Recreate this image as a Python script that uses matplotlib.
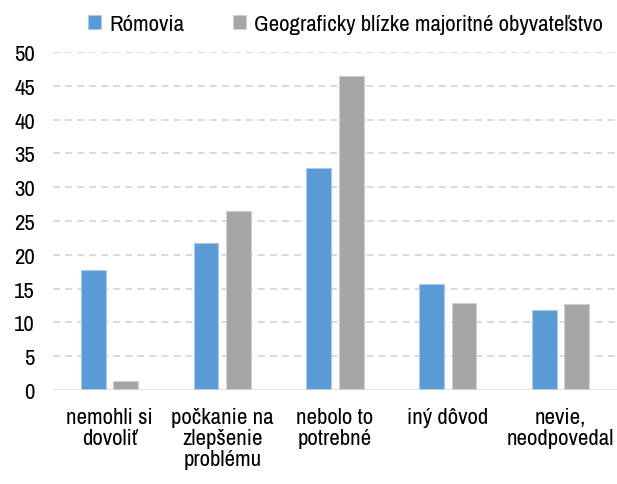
import matplotlib
matplotlib.use("Agg")
import matplotlib.pyplot as plt
import numpy as np

categories = ["nemohli si\ndovoliť", "počkanie na\nzlepšenie\nproblému",
              "nebolo to\npotrebné", "iný dôvod", "nevie,\nneodpovedal"]
romovia = [17.7, 21.7, 32.8, 15.7, 11.9]
majorita = [1.3, 26.5, 46.4, 12.8, 12.7]
series_names = ["Rómovia", "Geograficky blízke majoritné obyvateľstvo"]
yticks = [0, 5, 10, 15, 20, 25, 30, 35, 40, 45, 50]

plt.rcParams["font.family"] = ["Archivo Narrow", "Liberation Sans", "DejaVu Sans"]
FS = 16.5

fig = plt.figure(figsize=(6.17, 4.85), dpi=100)
ax = fig.add_axes([0.0859, 0.1938, 0.9141, 0.6969])

x = np.arange(len(categories))
w = 0.22
off = 0.143
ax.bar(x - off, romovia, w, color="#5B9BD5", edgecolor="#a9c9ea", linewidth=0.8,
       label=series_names[0], zorder=3)
ax.bar(x + off, majorita, w, color="#A5A5A5", edgecolor="#cfcfcf", linewidth=0.8,
       label=series_names[1], zorder=3)

ax.set_ylim(0, 50)
ax.set_xlim(-0.5, 4.5)
ax.set_yticks(yticks)
ax.set_xticks(x)
ax.set_xticklabels(categories, fontsize=FS, linespacing=1.08)
ax.tick_params(axis="y", labelsize=FS, length=0, pad=13)
ax.tick_params(axis="x", length=0, pad=12)

for v in yticks[1:]:
    ax.axhline(v, color="#d9d9d9", linewidth=1.4, dashes=(3.6, 2.6), zorder=1)
ax.axhline(0, color="#d9d9d9", linewidth=1.8, zorder=4)

for s in ax.spines.values():
    s.set_visible(False)

leg = fig.legend(loc="center left", bbox_to_anchor=(0.142, 0.948), ncol=2, frameon=False,
                 fontsize=FS, handlelength=0.6, handleheight=0.6, handletextpad=0.35,
                 columnspacing=2.1, borderaxespad=0, borderpad=0)

fig.savefig("out.png", dpi=100)
